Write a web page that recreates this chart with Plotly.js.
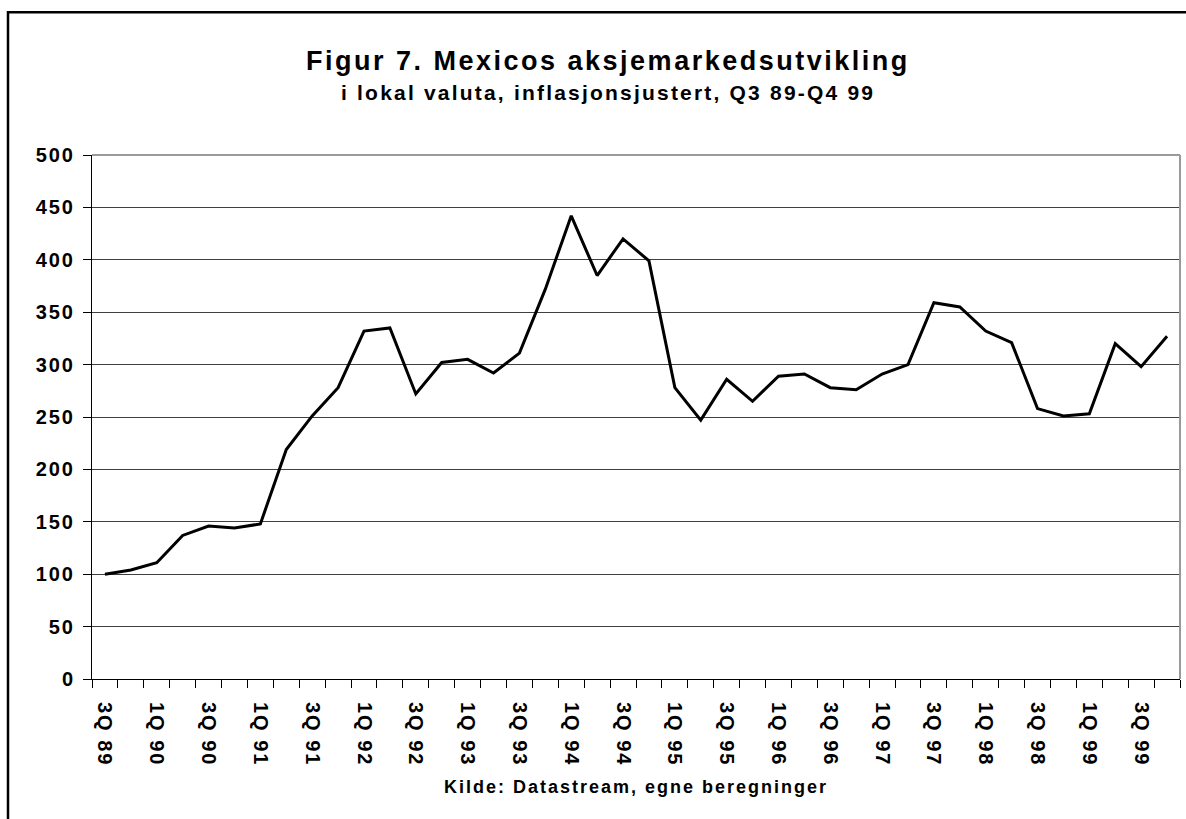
<!DOCTYPE html>
<html>
<head>
<meta charset="utf-8">
<script src="https://cdn.plot.ly/plotly-3.0.1.min.js"></script>
<style>
  html, body { margin: 0; padding: 0; background: #fff; }
  #chart { width: 1186px; height: 819px; }
  .xtick text, .ytick text { letter-spacing: 2px; }
</style>
</head>
<body>
<div id="chart"></div>
<script>
// Quarters (categories)
const quarters = [
  "3Q 89","4Q 89",
  "1Q 90","2Q 90","3Q 90","4Q 90",
  "1Q 91","2Q 91","3Q 91","4Q 91",
  "1Q 92","2Q 92","3Q 92","4Q 92",
  "1Q 93","2Q 93","3Q 93","4Q 93",
  "1Q 94","2Q 94","3Q 94","4Q 94",
  "1Q 95","2Q 95","3Q 95","4Q 95",
  "1Q 96","2Q 96","3Q 96","4Q 96",
  "1Q 97","2Q 97","3Q 97","4Q 97",
  "1Q 98","2Q 98","3Q 98","4Q 98",
  "1Q 99","2Q 99","3Q 99","4Q 99"
];

// Stock market index, local currency, inflation adjusted (3Q 89 = 100)
const indexValues = [
  100, 104,
  111, 137, 146, 144,
  148, 219, 251, 278,
  332, 335, 272, 302,
  305, 292, 311, 372,
  442, 385, 420, 399,
  278, 247, 286, 265,
  289, 291, 278, 276,
  291, 300, 359, 355,
  332, 321, 258, 251,
  253, 320, 298, 327
];

// Tick labels shown on the x axis (every other quarter)
const xTickLabels = [
  "3Q 89","","1Q 90","","3Q 90","","1Q 91","","3Q 91","",
  "1Q 92","","3Q 92","","1Q 93","","3Q 93","","1Q 94","",
  "3Q 94","","1Q 95","","3Q 95","","1Q 96","","3Q 96","",
  "1Q 97","","3Q 97","","1Q 98","","3Q 98","","1Q 99","",
  "3Q 99",""
];

const yTickValues = [0, 50, 100, 150, 200, 250, 300, 350, 400, 450, 500];

const titleText = "Figur 7. Mexicos aksjemarkedsutvikling";
const subtitleText = "i lokal valuta, inflasjonsjustert, Q3 89-Q4 99";
const sourceText = "Kilde: Datastream, egne beregninger";

const FONT = "Liberation Sans, Arial, Helvetica, sans-serif";

const trace = {
  type: "scatter",
  mode: "lines",
  x: quarters,
  y: indexValues,
  line: { color: "#000000", width: 3 },
  hoverinfo: "x+y"
};

const layout = {
  width: 1186,
  height: 819,
  margin: { l: 92, r: 6, t: 155, b: 140 },
  paper_bgcolor: "#ffffff",
  plot_bgcolor: "#ffffff",
  showlegend: false,
  font: { family: FONT, color: "#000000" },
  xaxis: {
    type: "category",
    categoryorder: "array",
    categoryarray: quarters,
    range: [-0.5, quarters.length - 0.5],
    tickmode: "array",
    tickvals: quarters,
    ticktext: xTickLabels,
    tickson: "boundaries",
    ticks: "outside",
    ticklen: 8,
    tickwidth: 1,
    tickcolor: "#000000",
    tickangle: 90,
    ticklabelstandoff: 18,
    tickfont: { family: FONT, size: 20, color: "#000000", weight: "bold" },
    showgrid: false,
    showline: true,
    linecolor: "#000000",
    linewidth: 1,
    zeroline: false,
    fixedrange: true
  },
  yaxis: {
    range: [0, 500],
    tickmode: "array",
    tickvals: yTickValues,
    ticktext: yTickValues.map(String),
    ticks: "outside",
    ticklen: 8,
    tickwidth: 1,
    tickcolor: "#000000",
    ticklabelstandoff: 4,
    tickfont: { family: FONT, size: 20, color: "#000000", weight: "bold" },
    showgrid: true,
    gridcolor: "#404040",
    gridwidth: 1,
    showline: true,
    linecolor: "#000000",
    linewidth: 1,
    zeroline: false,
    fixedrange: true
  },
  shapes: [
    // grey top and right frame of plot area
    { type: "line", xref: "paper", yref: "paper", x0: 0, x1: 1, y0: 1, y1: 1,
      line: { color: "#9a9a9a", width: 2 } },
    { type: "line", xref: "paper", yref: "paper", x0: 1, x1: 1, y0: 0, y1: 1,
      line: { color: "#9a9a9a", width: 2 } },
    // outer chart border
    { type: "rect", xref: "paper", yref: "paper",
      x0: -0.0772, x1: 1.03, y0: -0.35, y1: 1.2725,
      line: { color: "#000000", width: 2.5 }, fillcolor: "rgba(0,0,0,0)" }
  ],
  annotations: [
    { text: '<span style="letter-spacing:2.5px">' + titleText + '</span>',
      xref: "paper", yref: "paper", x: 0.4745, y: 1.1802,
      xanchor: "center", yanchor: "middle", showarrow: false,
      font: { family: FONT, size: 27, color: "#000000", weight: "bold" } },
    { text: '<span style="letter-spacing:2.2px">' + subtitleText + '</span>',
      xref: "paper", yref: "paper", x: 0.4745, y: 1.1189,
      xanchor: "center", yanchor: "middle", showarrow: false,
      font: { family: FONT, size: 21, color: "#000000", weight: "bold" } },
    { text: '<span style="letter-spacing:2px">' + sourceText + '</span>',
      xref: "paper", yref: "paper", x: 0.5, y: -0.2057,
      xanchor: "center", yanchor: "middle", showarrow: false,
      font: { family: FONT, size: 18, color: "#000000", weight: "bold" } }
  ]
};

Plotly.newPlot("chart", [trace], layout, { displayModeBar: false, staticPlot: true });
</script>
</body>
</html>
